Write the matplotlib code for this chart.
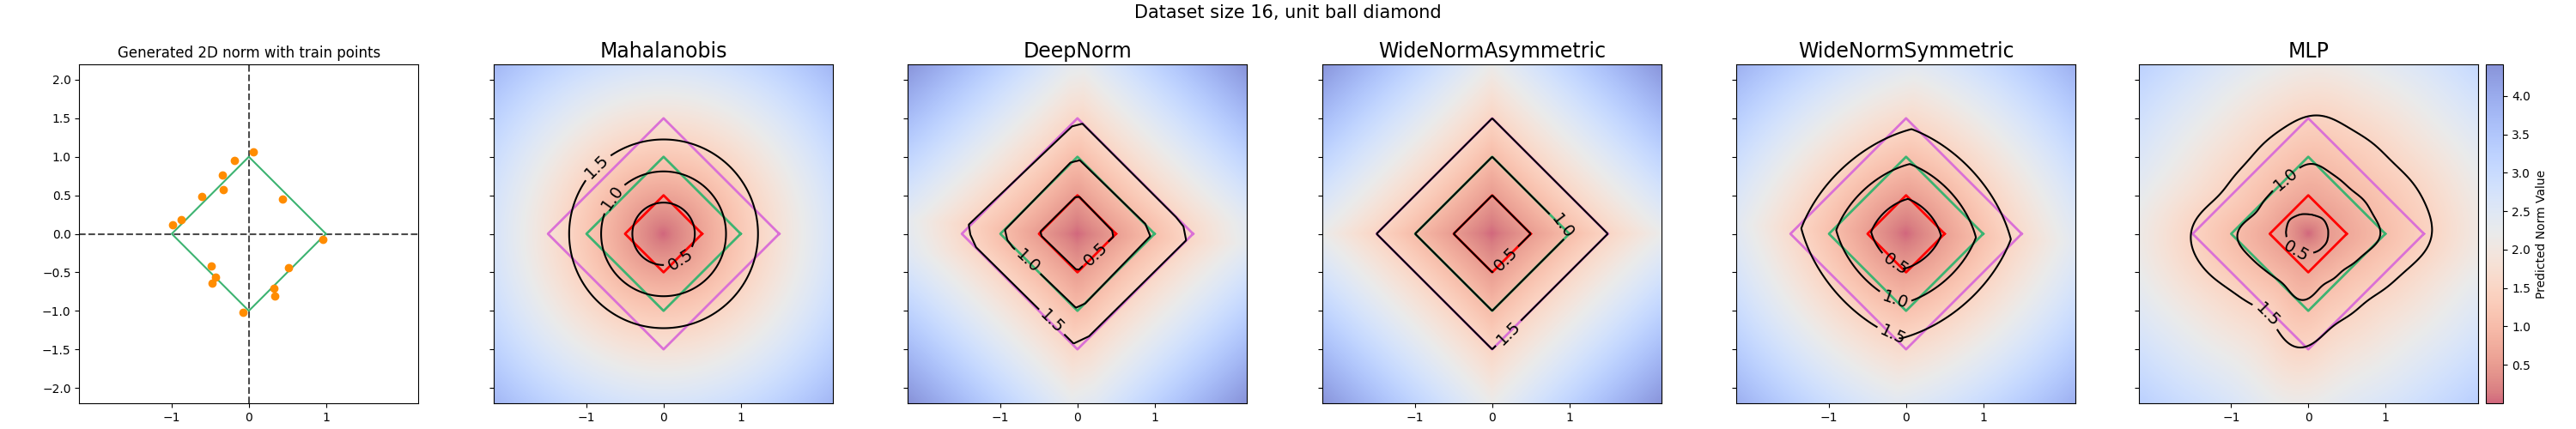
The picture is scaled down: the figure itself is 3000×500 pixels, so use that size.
import numpy as np
import matplotlib
matplotlib.use("Agg")
import matplotlib.pyplot as plt

# ---------------- text ----------------
suptitle_text = "Dataset size 16, unit ball diamond"
first_title = "Generated 2D norm with train points"
panel_titles = ["Mahalanobis", "DeepNorm", "WideNormAsymmetric", "WideNormSymmetric", "MLP"]
cbar_label = "Predicted Norm Value"

# ---------------- data ----------------
contour_levels = [0.5, 1.0, 1.5]
ball_radii = [0.5, 1.0, 1.5]
ball_colors = ["red", "mediumseagreen", "orchid"]

train_x = [0.061, -0.184, -0.341, -0.330, -0.609, -0.877, -0.988, 0.441,
           0.955, 0.520, 0.330, 0.341, -0.073, -0.486, -0.427, -0.475]
train_y = [1.063, 0.951, 0.761, 0.571, 0.481, 0.179, 0.112, 0.448,
           -0.067, -0.437, -0.705, -0.806, -1.019, -0.414, -0.560, -0.638]

# Mahalanobis: circular level sets (radius per level)
maha_radii = [0.405, 0.81, 1.225]

# DeepNorm: polygonal level sets
deep_05 = [(-0.03, 0.475), (0.025, 0.48), (0.45, 0.04), (0.465, -0.04), (0.02, -0.465),
           (-0.02, -0.46), (-0.465, -0.03), (-0.48, 0.03)]
deep_10 = [(-0.09, 0.925), (0.03, 0.955), (0.88, 0.13), (0.945, -0.03), (0.10, -0.905),
           (-0.02, -0.96), (-0.84, -0.175), (-0.91, -0.08), (-0.94, 0.05)]
deep_15 = [(-0.07, 1.395), (0.065, 1.43), (1.28, 0.215), (1.375, 0.095), (1.41, -0.085),
           (0.15, -1.33), (-0.05, -1.425), (-1.315, -0.175), (-1.39, -0.01), (-1.41, 0.12)]

# WideNormAsymmetric: diamond level sets (L1 radius per level)
wasym_radii = [0.5, 1.0, 1.5]

# WideNormSymmetric: max of two elliptical norms (semi-axes, orientation in degrees)
wsym_a = [1.10, 1.10]
wsym_b = [0.79, 0.79]
wsym_angle = [42.0, 132.0]

# MLP: wavy level sets
mlp_05 = [(-0.29, -0.009), (-0.275, 0.121), (-0.225, 0.20), (-0.11, 0.251), (-0.007, 0.255),
          (0.10, 0.235), (0.197, 0.19), (0.25, 0.09), (0.26, -0.009), (0.24, -0.11),
          (0.17, -0.195), (0.08, -0.245), (-0.02, -0.255), (-0.156, -0.232), (-0.249, -0.139)]
mlp_10 = [(-0.045, 0.900), (0.048, 0.912), (0.20, 0.855), (0.34, 0.76), (0.44, 0.675),
          (0.55, 0.58), (0.66, 0.50), (0.76, 0.38), (0.83, 0.28), (0.90, 0.14), (0.94, 0.01),
          (0.92, -0.084), (0.81, -0.195), (0.66, -0.325), (0.51, -0.436), (0.364, -0.548),
          (0.215, -0.659), (0.067, -0.770), (-0.063, -0.900), (-0.156, -0.826), (-0.304, -0.678),
          (-0.453, -0.548), (-0.564, -0.473), (-0.676, -0.381), (-0.787, -0.269), (-0.880, -0.158),
          (-0.928, -0.046), (-0.917, 0.046), (-0.843, 0.121), (-0.750, 0.214), (-0.657, 0.306),
          (-0.564, 0.436), (-0.509, 0.511), (-0.397, 0.622), (-0.175, 0.808)]
mlp_15 = [(-0.007, 1.525), (0.12, 1.532), (0.290, 1.513), (0.438, 1.439), (0.587, 1.327),
          (0.735, 1.253), (0.884, 1.142), (1.032, 0.993), (1.181, 0.845), (1.329, 0.696),
          (1.441, 0.548), (1.534, 0.362), (1.597, 0.139), (1.608, -0.009), (1.571, -0.158),
          (1.478, -0.269), (1.329, -0.418), (1.181, -0.566), (1.032, -0.678), (0.884, -0.789),
          (0.735, -0.900), (0.587, -1.012), (0.438, -1.123), (0.290, -1.235), (0.141, -1.346),
          (-0.007, -1.457), (-0.12, -1.50), (-0.267, -1.439), (-0.360, -1.272), (-0.56, -1.03),
          (-0.750, -0.900), (-0.899, -0.808), (-1.047, -0.715), (-1.196, -0.604), (-1.344, -0.455),
          (-1.456, -0.306), (-1.530, -0.121), (-1.520, 0.065), (-1.418, 0.232), (-1.270, 0.399),
          (-1.084, 0.585), (-0.936, 0.771), (-0.787, 0.956), (-0.639, 1.105), (-0.490, 1.253),
          (-0.342, 1.365), (-0.193, 1.457)]
mlp_outer_slope = 0.94

# contour label positions (data coords) per panel
label_pos = [
    [(0.221, -0.343), (-0.670, 0.473), (-0.856, 0.863)],
    [(0.243, -0.269), (-0.629, -0.343), (-0.333, -1.142)],
    [(0.173, -0.325), (0.933, 0.121), (0.21, -1.29)],
    [(-0.11, -0.362), (-0.117, -0.808), (-0.147, -1.272)],
    [(-0.126, -0.176), (-0.293, 0.715), (-0.572, -1.086)],
]

vmin, vmax = 0.0, 4.41
lim = 2.2

# ---------------- helpers ----------------
M = 4096
thetas = np.linspace(0, 2 * np.pi, M, endpoint=False)


def poly_rho(pts):
    P = np.asarray(pts, float)
    Q = np.roll(P, -1, axis=0)
    E = Q - P
    dx = np.cos(thetas)[:, None]
    dy = np.sin(thetas)[:, None]
    with np.errstate(divide="ignore", invalid="ignore"):
        den = dx * E[None, :, 1] - dy * E[None, :, 0]
        t = (P[None, :, 0] * E[None, :, 1] - P[None, :, 1] * E[None, :, 0]) / den
        s = (P[None, :, 0] * dy - P[None, :, 1] * dx) / den
    valid = (s >= -1e-9) & (s <= 1 + 1e-9) & (t > 0) & np.isfinite(t)
    t = np.where(valid, t, np.inf)
    return t.min(axis=1)


def smooth(rho, K):
    F = np.fft.rfft(rho)
    F[K + 1:] = 0
    return np.fft.irfft(F, n=M)


def diamond_pts(r):
    return [(r, 0), (0, r), (-r, 0), (0, -r)]


def ellipse_rho(scale):
    out = np.full(M, np.inf)
    for a, b, ang in zip(wsym_a, wsym_b, wsym_angle):
        phi = np.deg2rad(ang)
        c = np.cos(thetas - phi)
        s = np.sin(thetas - phi)
        out = np.minimum(out, 1.0 / np.sqrt((c / a) ** 2 + (s / b) ** 2))
    return out * scale


N = 500
g = -lim + (np.arange(N) + 0.5) * (2 * lim / N)
X, Y = np.meshgrid(g, g)
R = np.hypot(X, Y)
TH = np.mod(np.arctan2(Y, X), 2 * np.pi)


def build_field(rhos, slope=None):
    r05, r10, r15 = [np.interp(TH, thetas, rr, period=2 * np.pi) for rr in rhos]
    sl = (1.5 / r15) if slope is None else slope
    f = np.where(R <= r05, 0.5 * R / r05,
        np.where(R <= r10, 0.5 + 0.5 * (R - r05) / (r10 - r05),
        np.where(R <= r15, 1.0 + 0.5 * (R - r10) / (r15 - r10),
                 1.5 + sl * (R - r15))))
    return f


fields = [
    build_field([np.full(M, r) for r in maha_radii]),
    build_field([poly_rho(deep_05), poly_rho(deep_10), poly_rho(deep_15)]),
    build_field([poly_rho(diamond_pts(r)) for r in wasym_radii]),
    build_field([ellipse_rho(l) for l in contour_levels]),
    build_field([smooth(poly_rho(p), 12) for p in (mlp_05, mlp_10, mlp_15)], slope=mlp_outer_slope),
]

# ---------------- figure ----------------
fig = plt.figure(figsize=(30, 5), dpi=100)
W, H = 3000.0, 500.0
lefts = [92.3, 575.3, 1057.3, 1540.3, 2022.3, 2490.7]
aw = 395.0
bottom = 30.0 / H
ah = 395.0 / H

yt = np.arange(-2.0, 2.01, 0.5)

ax0 = fig.add_axes([lefts[0] / W, bottom, aw / W, ah])
ax0.axhline(0, color="k", alpha=0.7, ls="--", lw=1.5)
ax0.axvline(0, color="k", alpha=0.7, ls="--", lw=1.5)
d = diamond_pts(1.0)
ax0.plot([p[0] for p in d] + [d[0][0]], [p[1] for p in d] + [d[0][1]],
         color="mediumseagreen", lw=1.5)
ax0.scatter(train_x, train_y, color="darkorange", s=36, zorder=3)
ax0.set_xlim(-lim, lim)
ax0.set_ylim(-lim, lim)
ax0.set_xticks([-1, 0, 1])
ax0.set_yticks(yt)
ax0.set_title(first_title, fontsize=12)

im = None
for i, (title, F) in enumerate(zip(panel_titles, fields)):
    ax = fig.add_axes([lefts[i + 1] / W, bottom, aw / W, ah])
    im = ax.imshow(F, extent=[-lim, lim, -lim, lim], origin="lower", cmap="coolwarm_r",
                   alpha=0.6, vmin=vmin, vmax=vmax)
    for r, c in zip(ball_radii, ball_colors):
        dp = diamond_pts(r)
        ax.plot([p[0] for p in dp] + [dp[0][0]], [p[1] for p in dp] + [dp[0][1]],
                color=c, lw=2)
    cs = ax.contour(X, Y, F, levels=contour_levels, colors="k", linewidths=1.5)
    ax.clabel(cs, inline=True, fontsize=14, fmt="%1.1f", manual=label_pos[i])
    ax.set_xlim(-lim, lim)
    ax.set_ylim(-lim, lim)
    ax.set_xticks([-1, 0, 1])
    ax.set_yticks(yt)
    ax.set_yticklabels([])
    ax.set_title(title, fontsize=17)

cax = fig.add_axes([2895.3 / W, bottom, 20.0 / W, ah])
cb = fig.colorbar(im, cax=cax)
cb.set_ticks(np.arange(0.5, 4.01, 0.5))
cb.set_label(cbar_label)

fig.suptitle(suptitle_text, fontsize=15, y=0.99)
fig.savefig("out.png", dpi=100)
